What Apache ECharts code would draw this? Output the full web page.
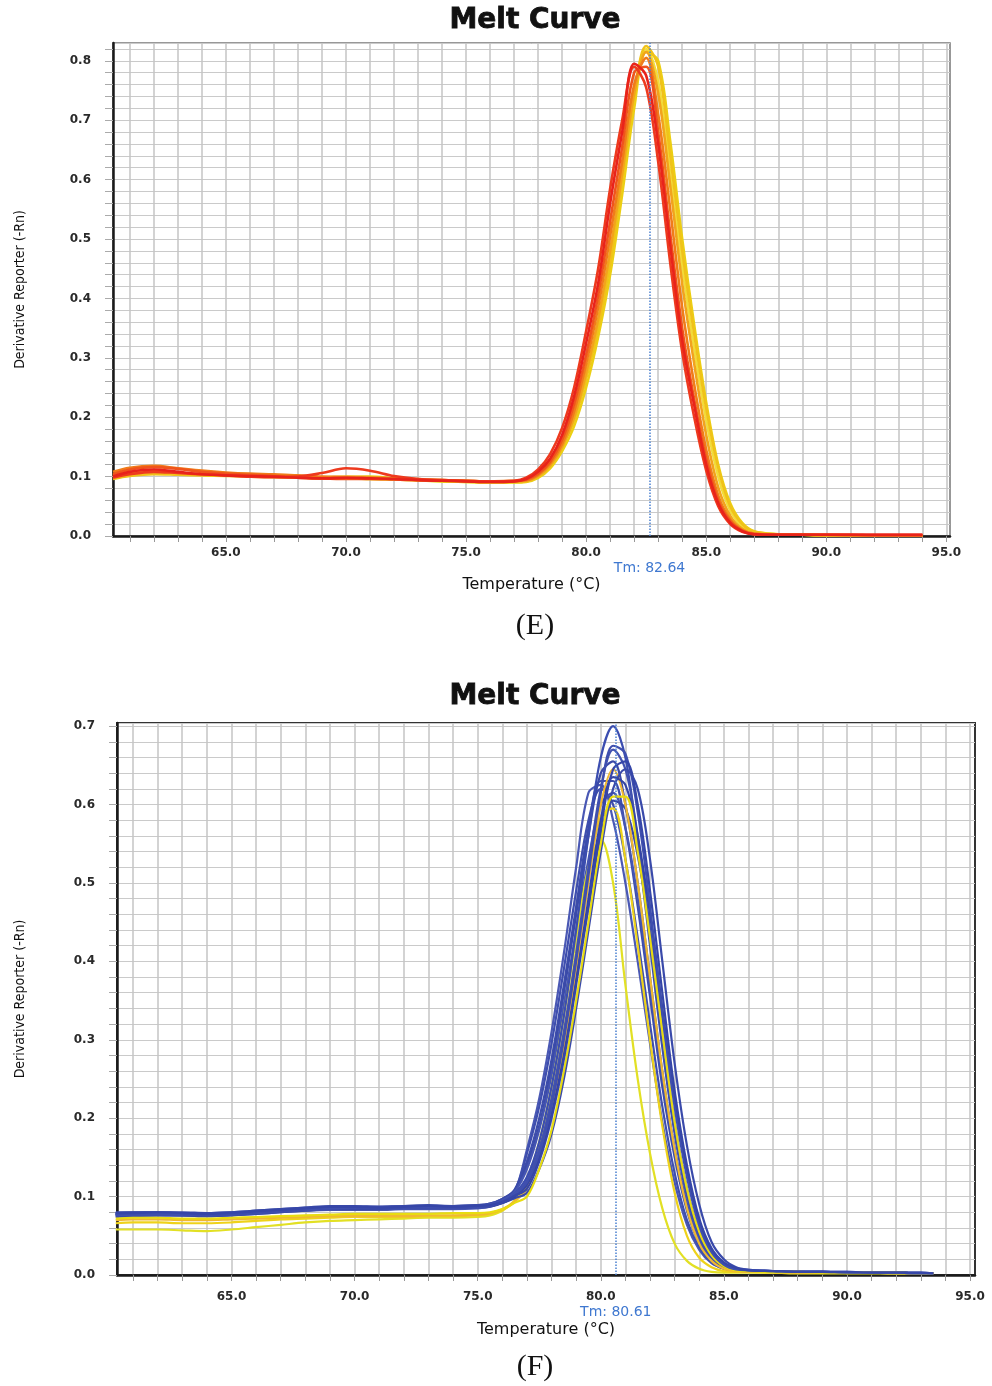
<!DOCTYPE html>
<html>
<head>
<meta charset="utf-8">
<script src="https://cdn.jsdelivr.net/npm/echarts@6/dist/echarts.min.js"></script>
<style>
  html, body { margin: 0; padding: 0; background: #fff; }
  #chart { width: 992px; height: 1386px; }
</style>
</head>
<body>
<div id="chart"></div>
<script>
// tick positions on the temperature axis (one grid line per degree, labels every 5)
const tempGridTicks = [61, 62, 63, 64, 65, 66, 67, 68, 69, 70, 71, 72, 73, 74, 75, 76, 77, 78,
  79, 80, 81, 82, 83, 84, 85, 86, 87, 88, 89, 90, 91, 92, 93, 94, 95]
const tempLabels = [65, 70, 75, 80, 85, 90, 95]

// --- (E) melt curves: temperature grid + one array per well ---
const tempE = [60.3, 61, 62, 63, 64, 65, 66, 67, 68, 69, 70, 71, 72, 73, 74, 75, 76, 77,
  77.5, 78, 78.5, 79, 79.5, 80, 80.5, 81, 81.5, 82, 82.5, 83, 83.5, 84, 84.5, 85, 85.5, 86, 86.5, 87,
  88, 89, 90, 91, 92, 93, 94]

const eYellow3 = [0.098,0.103,0.106,0.105,0.103,0.102,0.101,0.100,0.099,0.098,0.097,0.096,0.095,0.094,0.092,0.091,0.090,0.091,
  0.092,0.101,0.120,0.153,0.200,0.270,0.360,0.470,0.605,0.750,0.820,0.765,0.610,0.455,0.315,0.195,0.100,0.043,0.016,0.006,
  0.002,0.002,0.001,0.001,0.001,0.001,0.001]
const eYellow2 = [0.100,0.106,0.109,0.106,0.103,0.102,0.102,0.101,0.099,0.097,0.099,0.100,0.097,0.094,0.092,0.091,0.090,0.090,
  0.091,0.098,0.114,0.143,0.185,0.250,0.335,0.440,0.575,0.720,0.815,0.800,0.665,0.500,0.355,0.225,0.120,0.055,0.022,0.008,
  0.003,0.002,0.001,0.001,0.001,0.001,0.001]
const eYellow1 = [0.096,0.101,0.104,0.103,0.102,0.101,0.100,0.099,0.098,0.097,0.097,0.096,0.095,0.094,0.093,0.092,0.091,0.091,
  0.092,0.100,0.118,0.150,0.195,0.265,0.350,0.460,0.600,0.740,0.825,0.790,0.640,0.480,0.340,0.215,0.115,0.050,0.020,0.007,
  0.003,0.002,0.001,0.001,0.001,0.001,0.001]
const eAmber = [0.102,0.108,0.110,0.107,0.104,0.104,0.104,0.103,0.101,0.099,0.100,0.099,0.097,0.095,0.094,0.093,0.092,0.092,
  0.093,0.101,0.119,0.150,0.200,0.275,0.365,0.480,0.610,0.745,0.815,0.745,0.590,0.425,0.290,0.170,0.082,0.034,0.012,0.004,
  0.002,0.002,0.001,0.001,0.001,0.001,0.001]
const eOrange = [0.108,0.115,0.118,0.114,0.110,0.107,0.105,0.104,0.102,0.100,0.099,0.098,0.097,0.096,0.094,0.093,0.092,0.093,
  0.094,0.103,0.122,0.155,0.210,0.290,0.385,0.505,0.630,0.760,0.805,0.710,0.550,0.385,0.255,0.145,0.068,0.028,0.010,0.004,
  0.002,0.002,0.002,0.001,0.001,0.001,0.001]
const eOrangeRed = [0.104,0.112,0.116,0.113,0.108,0.105,0.103,0.101,0.099,0.097,0.096,0.096,0.095,0.094,0.093,0.092,0.091,0.092,
  0.095,0.105,0.125,0.162,0.222,0.305,0.405,0.530,0.655,0.780,0.790,0.680,0.510,0.350,0.230,0.130,0.060,0.025,0.009,0.003,
  0.002,0.002,0.002,0.002,0.001,0.001,0.001]
const eRed2 = [0.098,0.104,0.108,0.106,0.104,0.102,0.100,0.099,0.100,0.106,0.114,0.110,0.101,0.096,0.094,0.093,0.092,0.093,
  0.098,0.112,0.138,0.182,0.250,0.345,0.450,0.585,0.700,0.790,0.755,0.630,0.460,0.310,0.200,0.110,0.050,0.020,0.007,0.003,
  0.002,0.002,0.002,0.002,0.002,0.002,0.002]
const eRed1 = [0.100,0.108,0.112,0.108,0.104,0.102,0.101,0.100,0.098,0.097,0.098,0.097,0.096,0.094,0.093,0.092,0.091,0.092,
  0.096,0.108,0.130,0.170,0.235,0.325,0.425,0.560,0.680,0.795,0.775,0.660,0.490,0.330,0.220,0.120,0.055,0.022,0.008,0.003,
  0.002,0.002,0.002,0.002,0.002,0.002,0.002]

const curvesE = [
  { data: eYellow3, color: '#f2dc3a' },
  { data: eYellow2, color: '#eccf14' },
  { data: eYellow1, color: '#f0c21a' },
  { data: eAmber, color: '#f2a31c' },
  { data: eOrange, color: '#f07c1a' },
  { data: eOrangeRed, color: '#f0541c' },
  { data: eRed2, color: '#ee3a1e' },
  { data: eRed1, color: '#e8231b' }
]
const tmE = 82.64

// --- (F) melt curves ---
const tempF = [60.3, 61, 62, 63, 64, 65, 66, 67, 68, 69, 70, 71, 72, 73, 74, 75, 75.5, 76, 76.5,
  77, 77.5, 78, 78.5, 79, 79.5, 80, 80.5, 81, 81.5, 82, 82.5, 83, 83.5, 84, 84.5, 85,
  85.5, 86, 87, 88, 89, 90, 91, 92, 93, 93.5]

const fBlue1 = [0.078,0.079,0.079,0.078,0.078,0.079,0.081,0.083,0.085,0.086,0.086,0.086,0.087,0.087,0.086,0.087,0.089,0.094,0.104,
  0.125,0.170,0.240,0.330,0.440,0.560,0.660,0.700,0.660,0.550,0.420,0.290,0.180,0.100,0.050,0.022,0.010,
  0.006,0.005,0.004,0.004,0.004,0.003,0.003,0.003,0.002,0.002]
const fBlue2 = [0.076,0.077,0.077,0.077,0.076,0.077,0.079,0.081,0.083,0.084,0.085,0.085,0.085,0.086,0.086,0.086,0.088,0.093,0.103,
  0.120,0.160,0.225,0.310,0.410,0.520,0.620,0.670,0.645,0.560,0.440,0.310,0.195,0.110,0.055,0.025,0.012,
  0.007,0.005,0.004,0.004,0.004,0.003,0.003,0.003,0.002,0.002]
const fBlue3 = [0.080,0.080,0.080,0.080,0.079,0.080,0.082,0.084,0.086,0.088,0.088,0.087,0.088,0.089,0.088,0.089,0.091,0.097,0.108,
  0.140,0.190,0.265,0.360,0.460,0.560,0.640,0.655,0.600,0.500,0.380,0.260,0.160,0.090,0.045,0.020,0.010,
  0.006,0.005,0.004,0.004,0.003,0.003,0.003,0.003,0.002,0.002]
const fBlue4 = [0.074,0.075,0.076,0.076,0.075,0.076,0.078,0.080,0.082,0.083,0.083,0.083,0.084,0.084,0.084,0.085,0.087,0.093,0.106,
  0.160,0.225,0.310,0.410,0.520,0.615,0.625,0.580,0.500,0.400,0.295,0.195,0.118,0.064,0.032,0.015,0.008,
  0.005,0.004,0.004,0.003,0.003,0.003,0.003,0.002,0.002,0.002]
const fBlue5 = [0.078,0.078,0.078,0.078,0.077,0.078,0.080,0.082,0.084,0.085,0.085,0.085,0.086,0.086,0.086,0.087,0.088,0.092,0.100,
  0.115,0.150,0.205,0.280,0.375,0.480,0.580,0.635,0.625,0.560,0.460,0.340,0.220,0.130,0.065,0.030,0.014,
  0.008,0.006,0.005,0.004,0.004,0.003,0.003,0.003,0.002,0.002]
const fBlue6 = [0.077,0.078,0.078,0.077,0.077,0.078,0.080,0.082,0.084,0.086,0.086,0.086,0.086,0.087,0.087,0.087,0.090,0.095,0.106,
  0.135,0.185,0.255,0.345,0.440,0.530,0.600,0.615,0.570,0.480,0.370,0.255,0.160,0.090,0.045,0.020,0.010,
  0.006,0.005,0.004,0.004,0.003,0.003,0.003,0.003,0.002,0.002]
const fBlue7 = [0.079,0.079,0.080,0.079,0.078,0.079,0.081,0.083,0.085,0.087,0.087,0.086,0.087,0.088,0.087,0.088,0.089,0.093,0.101,
  0.110,0.145,0.200,0.275,0.370,0.470,0.570,0.645,0.655,0.600,0.490,0.360,0.235,0.140,0.072,0.034,0.016,
  0.009,0.006,0.005,0.004,0.004,0.004,0.003,0.003,0.003,0.002]
const fBlue8 = [0.075,0.076,0.076,0.076,0.075,0.076,0.078,0.080,0.082,0.084,0.084,0.084,0.085,0.085,0.085,0.086,0.087,0.092,0.100,
  0.120,0.160,0.215,0.290,0.380,0.470,0.560,0.605,0.595,0.535,0.440,0.330,0.220,0.130,0.068,0.032,0.015,
  0.008,0.006,0.005,0.004,0.004,0.003,0.003,0.003,0.002,0.002]
const fBlue9 = [0.079,0.080,0.080,0.079,0.079,0.080,0.082,0.084,0.086,0.087,0.087,0.087,0.088,0.088,0.088,0.089,0.091,0.097,0.109,
  0.145,0.200,0.275,0.370,0.470,0.570,0.630,0.630,0.570,0.470,0.355,0.240,0.150,0.082,0.040,0.018,0.009,
  0.006,0.005,0.004,0.004,0.003,0.003,0.003,0.003,0.002,0.002]
const fBlue10 = [0.077,0.078,0.078,0.078,0.077,0.078,0.080,0.082,0.084,0.085,0.086,0.086,0.086,0.086,0.086,0.087,0.088,0.093,0.102,
  0.118,0.155,0.215,0.300,0.400,0.510,0.615,0.675,0.665,0.590,0.470,0.335,0.215,0.125,0.063,0.029,0.013,
  0.007,0.006,0.005,0.004,0.004,0.003,0.003,0.003,0.002,0.002]
const fBlue11 = [0.076,0.077,0.077,0.076,0.076,0.077,0.079,0.082,0.084,0.085,0.085,0.085,0.086,0.086,0.086,0.087,0.089,0.095,0.107,
  0.155,0.215,0.295,0.390,0.490,0.580,0.620,0.600,0.530,0.430,0.320,0.215,0.130,0.070,0.035,0.016,0.008,
  0.005,0.005,0.004,0.003,0.003,0.003,0.003,0.002,0.002,0.002]
const fBlue12 = [0.078,0.079,0.079,0.078,0.078,0.079,0.081,0.083,0.085,0.086,0.087,0.087,0.087,0.087,0.087,0.088,0.089,0.092,0.098,
  0.105,0.135,0.180,0.250,0.340,0.440,0.540,0.620,0.645,0.620,0.530,0.400,0.270,0.165,0.090,0.042,0.020,
  0.010,0.007,0.005,0.004,0.004,0.004,0.003,0.003,0.003,0.002]

const fYellow1 = [0.070,0.071,0.071,0.070,0.070,0.071,0.072,0.073,0.074,0.075,0.075,0.075,0.075,0.076,0.076,0.077,0.079,0.084,0.094,
  0.110,0.150,0.210,0.290,0.390,0.500,0.600,0.645,0.600,0.500,0.380,0.260,0.160,0.085,0.040,0.018,0.008,
  0.005,0.004,0.004,0.003,0.003,0.003,0.003,0.003,0.002,0.002]
const fYellow2 = [0.066,0.067,0.067,0.066,0.066,0.067,0.069,0.071,0.072,0.073,0.074,0.074,0.074,0.075,0.075,0.076,0.078,0.083,0.093,
  0.115,0.160,0.225,0.310,0.410,0.510,0.585,0.595,0.530,0.420,0.300,0.190,0.105,0.050,0.022,0.010,0.005,
  0.004,0.004,0.003,0.003,0.003,0.003,0.003,0.002,0.002,0.002]
const fYellow3 = [0.058,0.058,0.058,0.057,0.056,0.058,0.061,0.064,0.067,0.069,0.070,0.071,0.072,0.073,0.073,0.074,0.076,0.082,0.095,
  0.120,0.170,0.240,0.330,0.430,0.520,0.555,0.500,0.370,0.250,0.155,0.085,0.040,0.018,0.008,0.004,0.003,
  0.003,0.003,0.003,0.002,0.002,0.002,0.002,0.002,0.002,0.002]
const fYellow4 = [0.072,0.073,0.073,0.072,0.072,0.073,0.074,0.075,0.076,0.077,0.078,0.078,0.078,0.078,0.079,0.079,0.080,0.084,0.092,
  0.100,0.135,0.185,0.260,0.350,0.450,0.550,0.610,0.610,0.540,0.430,0.310,0.195,0.110,0.055,0.025,0.011,
  0.006,0.005,0.004,0.004,0.003,0.003,0.003,0.003,0.002,0.002]

const curvesF = [
  { data: fBlue4, color: '#4a58b4' },
  { data: fBlue11, color: '#3e4eae' },
  { data: fBlue9, color: '#3d4dac' },
  { data: fBlue3, color: '#3a4aa8' },
  { data: fBlue6, color: '#4555b2' },
  { data: fYellow3, color: '#e2e024' },
  { data: fYellow2, color: '#eed21a' },
  { data: fBlue1, color: '#3b4db0' },
  { data: fBlue8, color: '#3848a6' },
  { data: fBlue2, color: '#4252b0' },
  { data: fYellow1, color: '#f0b830' },
  { data: fBlue12, color: '#3a4aaa' },
  { data: fBlue5, color: '#3444a4' },
  { data: fYellow4, color: '#e8dc10' },
  { data: fBlue10, color: '#3f4fae' },
  { data: fBlue7, color: '#3646a8' }
]
const tmF = 80.61

function pairs(temps, vals) {
  return temps.map((t, i) => [t, vals[i]])
}

const labelFont = { fontFamily: 'DejaVu Sans', fontWeight: 'bold', fontSize: 12, color: '#2a2a2a' }

function xAxisFor(gridIndex, min, max, gap, labelGap) {
  return {
    type: 'value', gridIndex, min, max,
    name: 'Temperature (°C)', nameLocation: 'middle', nameGap: gap,
    nameTextStyle: { fontFamily: 'DejaVu Sans', fontSize: 16, color: '#111' },
    axisLine: { show: true, onZero: false, lineStyle: { color: '#1a1a1a', width: 2.5 } },
    axisTick: { show: true, length: 6, customValues: tempGridTicks, lineStyle: { color: '#999' } },
    axisLabel: { ...labelFont, margin: labelGap, customValues: tempLabels, formatter: v => v.toFixed(1) },
    splitLine: { show: true, lineStyle: { color: '#c4c4c4', width: 1.5 } }
  }
}

function yAxisFor(gridIndex, max, gap) {
  return {
    type: 'value', gridIndex, min: 0, max, interval: 0.02,
    name: 'Derivative Reporter (-Rn)', nameLocation: 'middle', nameGap: gap, nameRotate: 90,
    nameTextStyle: { fontFamily: 'Liberation Sans Narrow, DejaVu Sans Condensed, sans-serif', fontSize: 14, color: '#111' },
    axisLine: { show: true, lineStyle: { color: '#1a1a1a', width: 2.5 } },
    axisTick: { show: true, length: 8, lineStyle: { color: '#aaa' } },
    axisLabel: {
      ...labelFont, margin: 22, showMaxLabel: false,
      formatter: v => (Math.abs(Math.round(v * 10) - v * 10) < 1e-6 ? v.toFixed(1) : '')
    },
    splitLine: { show: true, lineStyle: { color: '#cacaca', width: 1 } }
  }
}

function makeSeries(curves, temps, axisIndex, tm, tmGap) {
  return curves.map((c, i) => {
    const s = {
      type: 'line', xAxisIndex: axisIndex, yAxisIndex: axisIndex,
      data: pairs(temps, c.data), smooth: 0.35, showSymbol: false,
      lineStyle: { color: c.color, width: axisIndex === 0 ? 2.6 : 2.2 }, z: 2 + i
    }
    if (i === curves.length - 1) {
      s.markLine = {
        silent: true, symbol: 'none', z: 20,
        lineStyle: { color: '#4a80d0', type: 'dotted', width: 1.5 },
        label: {
          show: true, position: 'start', distance: tmGap, formatter: 'Tm: ' + tm.toFixed(2),
          color: '#3f78d0', fontFamily: 'DejaVu Sans', fontSize: 14
        },
        data: [{ xAxis: tm }]
      }
    }
    return s
  })
}

const titleStyle = {
  fontFamily: 'DejaVu Sans', fontWeight: 'bold', fontSize: 28, color: '#111',
  textBorderColor: '#111', textBorderWidth: 0.8
}

const chart = echarts.init(document.getElementById('chart'), null, { renderer: 'canvas' })
chart.setOption({
  animation: false,
  backgroundColor: '#fff',
  title: [
    { text: 'Melt Curve', left: 530, top: 2, textAlign: 'center', textStyle: titleStyle },
    { text: 'Melt Curve', left: 530, top: 678, textAlign: 'center', textStyle: titleStyle },
    { text: '(E)', left: 530, top: 606, textAlign: 'center',
      textStyle: { fontFamily: 'Liberation Serif', fontWeight: 'normal', fontSize: 30, color: '#111' } },
    { text: '(F)', left: 530, top: 1347, textAlign: 'center',
      textStyle: { fontFamily: 'Liberation Serif', fontWeight: 'normal', fontSize: 30, color: '#111' } }
  ],
  grid: [
    { left: 113, top: 43, width: 837, height: 493, show: true, borderColor: '#777', borderWidth: 1.5 },
    { left: 117, top: 723, width: 858, height: 552, show: true, borderColor: '#333', borderWidth: 2 }
  ],
  xAxis: [xAxisFor(0, 60.3, 95.15, 41, 11), xAxisFor(1, 60.35, 95.2, 47, 16)],
  yAxis: [yAxisFor(0, 0.83, 86), yAxisFor(1, 0.704, 90)],
  series: [
    ...makeSeries(curvesE, tempE, 0, tmE, 25),
    ...makeSeries(curvesF, tempF, 1, tmF, 30)
  ]
})
</script>
</body>
</html>
